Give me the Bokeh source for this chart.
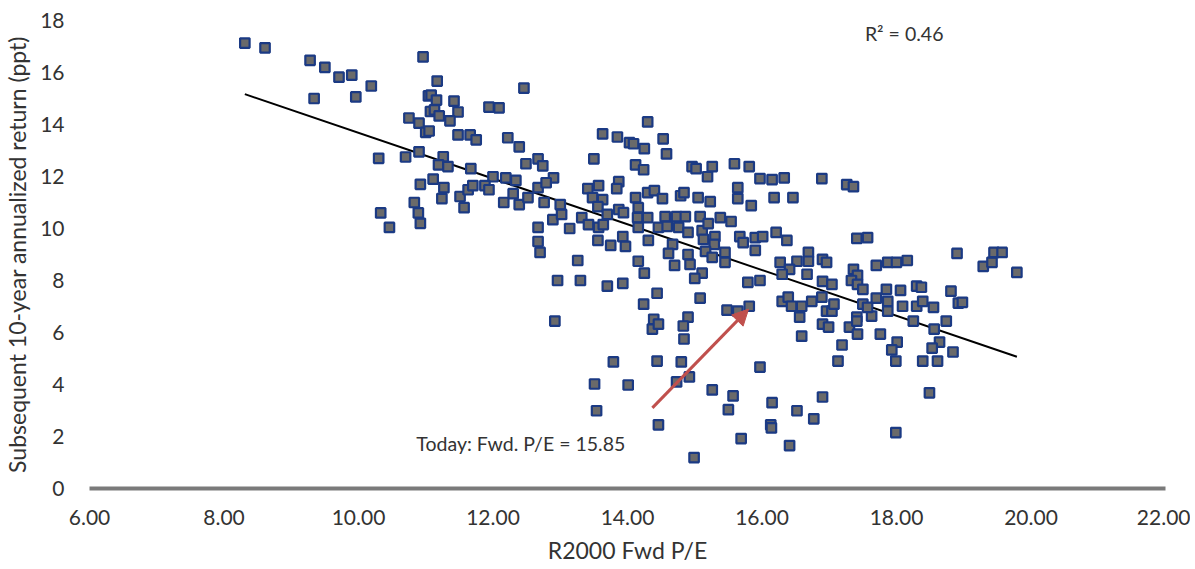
import numpy as np
from bokeh.plotting import figure
from bokeh.models import Range1d, FixedTicker, Arrow, NormalHead, Label, ColumnDataSource
from bokeh.embed import file_html
from bokeh.resources import INLINE

# R2000 forward P/E (x) and subsequent 10-year annualized return (y)
pe = [8.31, 8.61, 9.28, 9.34, 9.5, 9.71, 9.9, 9.96, 10.19,
      10.96, 11.04, 11.07, 10.75, 10.9, 11.0, 10.3, 10.7, 10.9,
      10.92, 10.83, 10.89, 10.92, 10.33, 10.46,
      11.17, 11.08, 11.16, 11.13, 11.2, 11.42, 11.48, 11.36, 11.05, 11.48, 11.66, 11.75, 11.94, 12.09, 12.46,
      12.22, 12.39, 12.49, 12.67, 12.74, 12.9, 12.0, 12.19, 12.34, 11.67, 11.26, 11.19, 11.33, 11.11,
      13.63, 13.85, 13.5, 14.03,
      14.3, 14.09, 14.25, 14.53, 14.58, 14.12, 14.24, 14.96, 15.02, 15.26, 15.19, 15.59, 15.81, 15.97, 16.15, 16.33, 16.89,
      11.27, 11.24, 11.51, 11.57, 11.63, 11.7, 11.88, 11.94, 12.16, 12.3, 12.39, 12.52, 12.67, 12.76, 12.79,
      12.89, 13.0, 13.02, 12.67, 12.67, 12.7, 13.14, 13.32, 13.26, 12.96, 13.3, 13.7, 13.93, 12.92,
      13.41, 13.57, 13.87, 13.84, 13.48, 13.63, 13.56, 13.42, 13.57, 13.64, 13.7, 13.87, 13.94, 13.56, 13.75, 13.93, 13.97,
      15.64, 15.64, 15.84, 16.18, 16.46, 14.12, 14.3, 14.4, 14.52, 14.79, 14.84, 15.05, 15.23, 14.16, 14.15, 14.3,
      14.56, 14.73, 14.86, 15.08, 15.38, 15.54,
      14.16, 14.31, 14.46, 14.59, 14.76, 14.67, 14.9, 15.11, 15.13, 15.2, 15.3, 15.29, 14.61, 14.9, 15.16, 15.26,
      15.45, 15.45, 14.7, 14.93, 15.67, 15.72, 15.9, 15.9, 16.01, 16.21, 16.37, 14.16, 14.25, 15.11, 15.0, 14.44,
      14.24, 15.08, 15.48, 15.64, 15.81, 15.79, 15.97, 16.27, 16.52, 16.69, 16.69, 16.9, 16.41, 16.3, 16.67, 16.9,
      16.3, 16.39, 16.44, 16.59, 16.74, 16.89, 16.56, 16.96, 14.39, 14.9,
      14.37, 14.46, 14.83, 14.84, 14.44, 14.8, 14.73, 14.92, 14.01, 15.26, 15.57, 15.5, 15.97, 14.46, 14.99, 15.69,
      16.15, 16.13, 16.14, 16.52, 16.77, 16.41, 16.9, 16.59, 16.9, 16.99,
      13.79, 13.51, 13.54,
      17.26, 17.36, 17.41, 17.57, 18.9, 19.29, 19.42, 19.45, 19.57, 19.79, 17.7, 17.87, 18.0, 18.16, 16.96, 17.36,
      17.42, 17.33, 17.04, 17.42, 17.5, 17.85, 18.06, 18.3, 18.37, 18.81, 18.92, 18.98, 18.74, 17.7, 17.87, 18.09,
      18.3, 18.39, 18.55, 17.04, 17.07, 17.63, 17.87, 17.41, 17.5, 17.57,
      17.3, 17.42, 17.41, 17.76, 18.01, 17.93, 17.99, 17.19, 17.13, 18.25, 18.56, 18.64, 18.53, 18.84, 18.39, 18.61,
      18.49, 17.99]
ret = [17.13, 16.95, 16.47, 15.0, 16.2, 15.82, 15.9, 15.06, 15.48,
       16.6, 15.1, 14.5, 14.25, 14.05, 13.7, 12.7, 12.75, 12.95,
       11.7, 11.0, 10.6, 10.2, 10.6, 10.04,
       15.67, 15.13, 14.94, 14.56, 14.33, 14.9, 14.48, 14.14, 13.75, 13.6, 13.6, 13.41, 14.67, 14.64, 15.4,
       13.49, 13.14, 12.49, 12.68, 12.41, 11.95, 11.99, 11.95, 11.85, 12.3, 12.76, 12.45, 12.38, 11.9,
       13.64, 13.52, 12.68, 13.3,
       14.1, 13.26, 13.07, 13.45, 12.87, 12.45, 12.26, 12.38, 12.3, 12.38, 11.99, 12.49, 12.38, 11.92, 11.88, 11.95, 11.92,
       11.57, 11.15, 11.23, 10.8, 11.49, 11.65, 11.65, 11.49, 11.0, 11.34, 10.92, 11.19, 11.57, 11.0, 11.76,
       10.34, 10.92, 10.54, 10.04, 9.5, 9.08, 10.0, 10.42, 8.77, 8.0, 8.0, 7.78, 7.89, 6.44,
       11.53, 11.65, 11.8, 11.53, 11.19, 11.11, 10.84, 10.15, 10.04, 10.15, 10.54, 10.73, 10.61, 9.54, 9.35, 9.69, 9.31,
       11.57, 11.15, 10.88, 11.19, 11.19, 11.19, 11.38, 11.46, 11.15, 11.26, 11.38, 11.19, 11.03, 10.8, 10.42, 10.42,
       10.46, 10.46, 10.46, 10.46, 10.42, 10.27,
       10.04, 9.54, 10.04, 10.08, 10.04, 9.39, 9.85, 9.92, 9.58, 10.19, 9.69, 9.39, 9.04, 9.0, 9.12, 8.89,
       9.08, 8.7, 8.58, 8.62, 9.69, 9.46, 9.65, 9.16, 9.69, 9.85, 9.54, 8.74, 8.28, 8.28, 8.08, 7.51,
       7.09, 7.32, 6.86, 6.82, 7.01, 7.93, 8.0, 8.7, 8.74, 9.08, 8.74, 8.81, 8.43, 8.24, 8.24, 7.97,
       7.2, 7.36, 7.01, 7.01, 7.2, 7.36, 6.59, 6.82, 6.51, 6.59,
       6.13, 6.32, 6.25, 5.75, 4.9, 4.87, 4.1, 4.29, 3.98, 3.79, 3.56, 3.03, 4.67, 2.45, 1.19, 1.92,
       3.3, 2.45, 2.33, 2.99, 2.68, 1.65, 3.52, 5.86, 6.32, 6.21,
       4.87, 4.02, 2.99,
       11.69, 11.61, 9.62, 9.65, 9.04, 8.54, 8.7, 9.08, 9.08, 8.31, 8.58, 8.7, 8.7, 8.77, 8.7, 8.43,
       8.2, 8.0, 7.85, 7.85, 7.66, 7.66, 7.62, 7.78, 7.74, 7.59, 7.13, 7.16, 6.44, 7.32, 7.2, 7.01,
       7.01, 7.2, 6.97, 6.82, 7.09, 6.63, 6.82, 6.59, 7.09, 6.97,
       6.21, 5.94, 6.44, 5.94, 5.63, 5.33, 4.9, 5.52, 4.9, 6.44, 6.13, 5.63, 5.4, 5.25, 4.9, 4.9,
       3.68, 2.15]

x_ticks = [6, 8, 10, 12, 14, 16, 18, 20, 22]
y_ticks = [0, 2, 4, 6, 8, 10, 12, 14, 16, 18]
x_label = "R2000 Fwd P/E"
y_label = "Subsequent 10-year annualized return (ppt)"
r2_text = "R\u00b2 = 0.46"
today_text = "Today: Fwd. P/E = 15.85"
today_pe = 15.85

FONT = "Lato"
TXT = "#333333"

p = figure(width=1190, height=566, output_backend="svg", toolbar_location=None,
           x_range=Range1d(6, 22), y_range=Range1d(0, 18),
           min_border_left=87, min_border_right=25, min_border_top=20, min_border_bottom=76)
p.outline_line_color = None
p.xgrid.visible = False
p.ygrid.visible = False
p.background_fill_color = "white"
p.border_fill_color = "white"

# x axis
xa = p.xaxis[0]
xa.ticker = FixedTicker(ticks=x_ticks)
xa.major_label_overrides = {t: f"{t:.2f}" for t in x_ticks}
xa.axis_line_color = "#7a7a7a"
xa.axis_line_width = 4
xa.major_tick_line_color = None
xa.minor_tick_line_color = None
xa.major_tick_out = 0
xa.major_tick_in = 0
xa.major_label_standoff = 21
xa.major_label_text_font = FONT
xa.major_label_text_font_size = "21px"
xa.major_label_text_color = TXT
xa.axis_label = x_label
xa.axis_label_text_font = FONT
xa.axis_label_text_font_style = "normal"
xa.axis_label_text_font_size = "23px"
xa.axis_label_text_color = TXT
xa.axis_label_standoff = 8

# y axis
ya = p.yaxis[0]
ya.ticker = FixedTicker(ticks=y_ticks)
ya.axis_line_color = None
ya.major_tick_line_color = None
ya.minor_tick_line_color = None
ya.major_tick_out = 0
ya.major_tick_in = 0
ya.major_label_standoff = 25
ya.major_label_text_font = FONT
ya.major_label_text_font_size = "21px"
ya.major_label_text_color = TXT
ya.axis_label = y_label
ya.axis_label_text_font = FONT
ya.axis_label_text_font_style = "normal"
ya.axis_label_text_font_size = "23px"
ya.axis_label_text_color = TXT
ya.axis_label_standoff = 6

src = ColumnDataSource(dict(x=pe, y=ret))

# linear trend line fitted to the scatter
xs = np.array(pe)
ys = np.array(ret)
slope, intercept = np.polyfit(xs, ys, 1)
lx = [xs.min(), xs.max()]
ly = [slope * v + intercept for v in lx]
p.line(lx, ly, line_color="black", line_width=2)

p.scatter("x", "y", source=src, marker="square", size=9.5,
          fill_color="#6a6a6a", line_color="#1b3a84", line_width=2.2)

# arrow pointing to today's valuation
p.add_layout(Arrow(end=NormalHead(size=16, fill_color="#c0504d", line_color="#c0504d"),
                   x_start=14.37, y_start=3.1, x_end=today_pe - 0.05, y_end=6.9,
                   line_color="#c0504d", line_width=3))

p.add_layout(Label(x=10.86, y=1.72, text=today_text, text_font=FONT, text_font_size="19.5px",
                   text_color=TXT, text_align="left", text_baseline="middle"))
p.add_layout(Label(x=17.53, y=17.5, text=r2_text, text_font=FONT, text_font_size="19.5px",
                   text_color=TXT, text_align="left", text_baseline="middle"))

open("out.html", "w").write(file_html(p, INLINE))
